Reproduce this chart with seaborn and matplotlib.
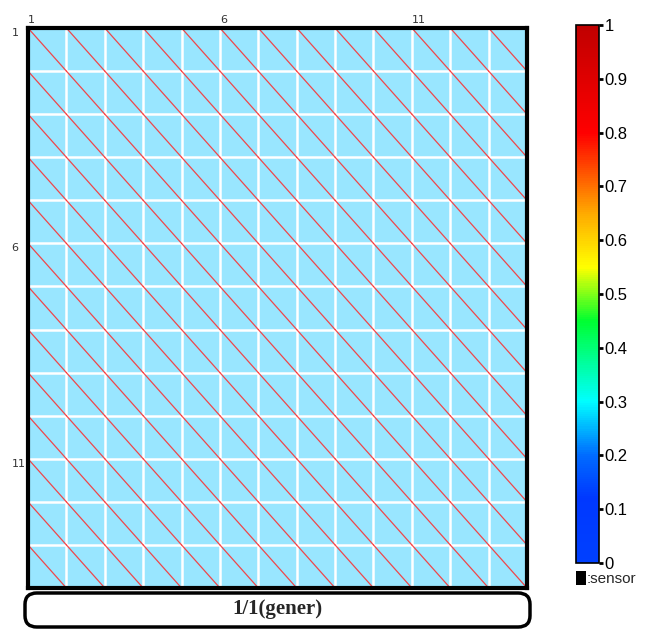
import numpy as np
import pandas as pd
import matplotlib
matplotlib.use("Agg")
import matplotlib.pyplot as plt
import seaborn as sns
from matplotlib.colors import LinearSegmentedColormap
from matplotlib.cm import ScalarMappable
from matplotlib.patches import FancyBboxPatch, Rectangle

sns.set_theme(style="white")

# data
n_rows = 13
n_cols = 13
cell_value = 0.26
x_tick_pos = [0, 5, 10]
x_tick_labels = ["1", "6", "11"]
y_tick_pos = [0, 5, 10]
y_tick_labels = ["1", "6", "11"]
cbar_ticks = [0, 0.1, 0.2, 0.3, 0.4, 0.5, 0.6, 0.7, 0.8, 0.9, 1.0]
cbar_labels = ["0", "0.1", "0.2", "0.3", "0.4", "0.5", "0.6", "0.7", "0.8", "0.9", "1"]
title_text = "1/1(gener)"
legend_text = ":sensor"

cmap = LinearSegmentedColormap.from_list("sensor", [
    (0.0, "#0040ff"), (0.12, "#0038ff"), (0.2, "#006cff"), (0.3, "#00ffff"),
    (0.45, "#00ff30"), (0.55, "#ffff00"), (0.65, "#ffaa00"), (0.8, "#ff0000"),
    (1.0, "#c00000")])

grid = pd.DataFrame(np.full((n_rows, n_cols), cell_value))

fig = plt.figure(figsize=(6.55, 6.34), dpi=100)
ax = fig.add_axes([28 / 655, 1 - 588 / 634, 499 / 655, 560 / 634])
sns.heatmap(grid, ax=ax, cmap=cmap, vmin=0, vmax=1, alpha=0.4, cbar=False,
            linewidths=0, square=False)

# white cell borders
for r in range(1, n_rows):
    ax.axhline(r, color="white", lw=1.8)
for c in range(1, n_cols):
    ax.axvline(c, color="white", lw=1.8)

# diagonal in each cell
for r in range(n_rows):
    for c in range(n_cols):
        ax.plot([c, c + 1], [r, r + 1], color="#ff2a2a", lw=0.9, alpha=0.85)

ax.set_xlim(0, n_cols)
ax.set_ylim(n_rows, 0)
ax.xaxis.tick_top()
ax.set_xticks(x_tick_pos)
ax.set_xticklabels(x_tick_labels, rotation=0, ha="left", fontsize=8, color="#333333")
ax.set_yticks(y_tick_pos)
ax.set_yticklabels(y_tick_labels, rotation=0, va="top", ha="left", fontsize=8, color="#333333")
ax.tick_params(axis="x", length=0, pad=2)
ax.tick_params(axis="y", length=0, pad=12)
ax.set_xlabel("")
ax.set_ylabel("")
for s in ax.spines.values():
    s.set_visible(True)
    s.set_color("black")
    s.set_linewidth(3)

# colorbar
cax = fig.add_axes([576 / 655, 1 - 563 / 634, 23 / 655, 538 / 634])
sm = ScalarMappable(cmap=cmap, norm=plt.Normalize(0, 1))
cb = fig.colorbar(sm, cax=cax, ticks=cbar_ticks)
cb.ax.set_yticklabels(cbar_labels, fontsize=12, family="Liberation Sans", color="black")
cb.ax.tick_params(length=3, width=2, color="black", pad=1, direction="out")
cb.outline.set_linewidth(1.2)
cb.outline.set_edgecolor("black")

# legend marker
fig.add_artist(Rectangle((576 / 655, 1 - 585 / 634), 10 / 655, 14 / 634,
                         transform=fig.transFigure, facecolor="black", edgecolor="none"))
fig.text(587 / 655, 1 - 579 / 634, legend_text, fontsize=11, va="center", ha="left",
         family="Liberation Sans")

# bottom title box
box = FancyBboxPatch((25 / 655, 1 - 627 / 634), 505 / 655, 34 / 634,
                     boxstyle="round,pad=0,rounding_size=0.018",
                     transform=fig.transFigure, facecolor="white",
                     edgecolor="black", linewidth=2.5)
fig.add_artist(box)
fig.text(277 / 655, 1 - 609 / 634, title_text, fontsize=15, fontweight="bold",
         family="Liberation Serif", ha="center", va="center")

fig.savefig("out.png", dpi=100)
